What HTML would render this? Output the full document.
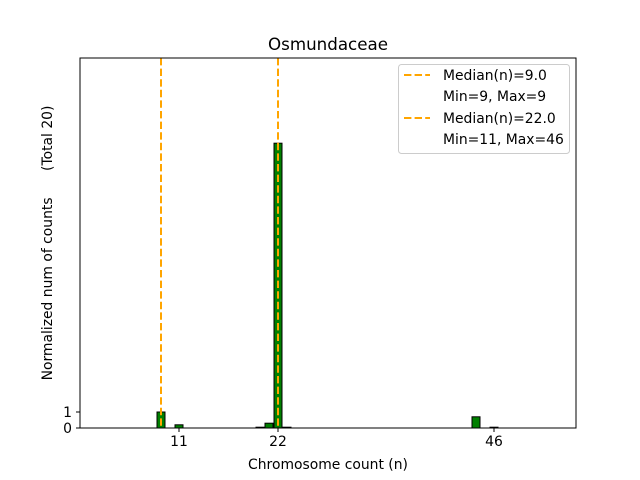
<!DOCTYPE html>
<html><head><meta charset="utf-8"><style>
body{margin:0;background:#fff;}
svg{display:block;font-family:"DejaVu Sans","Liberation Sans",sans-serif;}
</style></head><body>
<svg id="chart" width="640" height="480">
<text x="328" y="50" font-size="16.7" text-anchor="middle">Osmundaceae</text>
<g id="bars"></g>
<g id="medians"></g>
<rect x="80" y="58" width="496" height="370" fill="none" stroke="#000" stroke-width="1"/>
<g id="xticks"></g><g id="yticks"></g>
<text x="328" y="469" font-size="13.9" text-anchor="middle">Chromosome count (n)</text>
<text transform="translate(52,243) rotate(-90)" font-size="13.9" text-anchor="middle" xml:space="preserve">Normalized num of counts      (Total 20)</text>
<g>
<rect x="398.5" y="64.5" width="171" height="89" rx="3" fill="#fff" fill-opacity="0.8" stroke="#ccc"/>
<line x1="404" y1="75" x2="430" y2="75" stroke="#ffa500" stroke-width="2" stroke-dasharray="7.4,3.2"/>
<text x="443" y="80" font-size="13.9">Median(n)=9.0</text>
<text x="443" y="101" font-size="13.9">Min=9, Max=9</text>
<line x1="404" y1="118" x2="430" y2="118" stroke="#ffa500" stroke-width="2" stroke-dasharray="7.4,3.2"/>
<text x="443" y="123" font-size="13.9">Median(n)=22.0</text>
<text x="443" y="144" font-size="13.9">Min=11, Max=46</text>
</g>
</svg>
<script>
const binCenters=[9,11,20,21,22,23,44,46];
const binValues=[1,0.2,0.05,0.3,17.8,0.05,0.7,0.05];
const medians=[9,22];
const xTickValues=[11,22,46];
const yTickValues=[0,1];
const NS='http://www.w3.org/2000/svg';
const X=v=>80+v*9, Y=v=>428-v*16;
const bars=document.getElementById('bars');
binCenters.forEach((c,i)=>{
 const r=document.createElementNS(NS,'rect');
 const y=Y(binValues[i]);
 r.setAttribute('x',X(c)-4);r.setAttribute('y',y);r.setAttribute('width',8);r.setAttribute('height',428-y);
 r.setAttribute('fill','#008000');r.setAttribute('stroke','#000');r.setAttribute('stroke-width','1');
 
 
 bars.appendChild(r);
});
const med=document.getElementById('medians');
medians.forEach(m=>{
 const l=document.createElementNS(NS,'line');
 l.setAttribute('x1',X(m));l.setAttribute('x2',X(m));l.setAttribute('y1',58);l.setAttribute('y2',428);
 l.setAttribute('stroke','#ffa500');l.setAttribute('stroke-width','2');l.setAttribute('stroke-dasharray','7.4,3.2');
 
 
 med.appendChild(l);
});
const xt=document.getElementById('xticks');
xTickValues.forEach(v=>{
 const l=document.createElementNS(NS,'line');
 l.setAttribute('x1',X(v));l.setAttribute('x2',X(v));l.setAttribute('y1',428);l.setAttribute('y2',432);l.setAttribute('stroke','#000');
 
 
 xt.appendChild(l);
 const t=document.createElementNS(NS,'text');
 t.setAttribute('x',X(v));t.setAttribute('y',446);t.setAttribute('font-size','13.9');t.setAttribute('text-anchor','middle');t.textContent=v;
 
 
 xt.appendChild(t);
});
const yt=document.getElementById('yticks');
yTickValues.forEach(v=>{
 const l=document.createElementNS(NS,'line');
 l.setAttribute('x1',76);l.setAttribute('x2',80);l.setAttribute('y1',Y(v));l.setAttribute('y2',Y(v));l.setAttribute('stroke','#000');
 
 
 yt.appendChild(l);
 const t=document.createElementNS(NS,'text');
 t.setAttribute('x',72);t.setAttribute('y',Y(v)+5);t.setAttribute('font-size','13.9');t.setAttribute('text-anchor','end');t.textContent=v;
 
 
 yt.appendChild(t);
});
</script>
</body></html>
